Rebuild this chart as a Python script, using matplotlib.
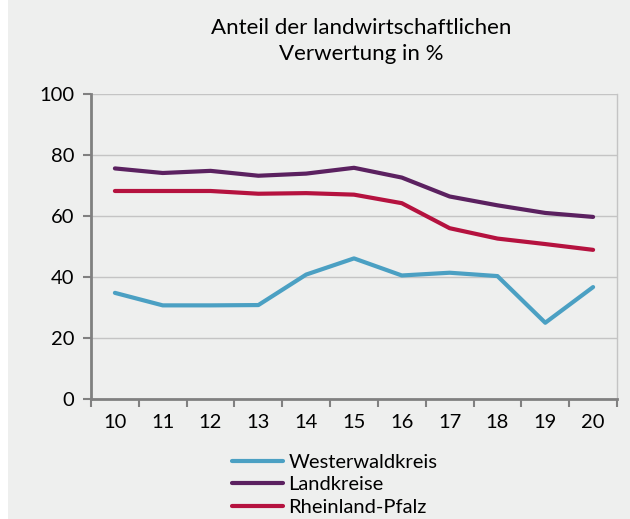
import matplotlib
matplotlib.use("Agg")
import matplotlib.pyplot as plt
from matplotlib.patches import Rectangle
import numpy as np

years = ["10", "11", "12", "13", "14", "15", "16", "17", "18", "19", "20"]
westerwald = [34.8, 30.7, 30.7, 30.8, 40.8, 46.1, 40.5, 41.4, 40.3, 25.0, 36.7]
landkreise = [75.6, 74.1, 74.8, 73.2, 73.9, 75.8, 72.6, 66.4, 63.5, 61.0, 59.7]
rlp = [68.2, 68.2, 68.2, 67.3, 67.5, 67.0, 64.2, 56.0, 52.6, 50.8, 48.9]
series_names = ["Westerwaldkreis", "Landkreise", "Rheinland-Pfalz"]
title = "Anteil der landwirtschaftlichen\nVerwertung in %"

plt.rcParams['font.family'] = ['Lato', 'DejaVu Sans']
bg = "#EEEFEE"
W, H = 630, 519
fig = plt.figure(figsize=(W/100, H/100), dpi=100, facecolor=bg)
fig.patches.append(Rectangle((0, 0), 8/W, 1, transform=fig.transFigure,
                             facecolor="white", edgecolor="none", zorder=-1))

ax = fig.add_axes([91/W, 1-399/H, (617-91)/W, (399-94)/H])
ax.set_facecolor(bg)
x = np.arange(len(years))
colors = ["#4BA0C3", "#5B2160", "#B5123F"]
for vals, c, n in zip([westerwald, landkreise, rlp], colors, series_names):
    ax.plot(x, vals, color=c, lw=3, label=n, solid_capstyle='round', zorder=3)

ax.set_xlim(-0.5, len(years)-0.5)
ax.set_ylim(0, 100)
ax.set_yticks([0, 20, 40, 60, 80, 100])
ax.set_xticks(x)
ax.set_xticklabels(years)
ax.set_xticks(np.arange(-0.5, len(years), 1.0), minor=True)
ax.tick_params(axis='x', which='major', length=0, pad=11, labelsize=14.5)
ax.tick_params(axis='x', which='minor', length=6, width=1.5, color="#808080", direction='out')
ax.tick_params(axis='y', length=6, width=1.5, color="#808080", labelsize=14.5, pad=6)
ax.grid(axis='y', color="#C4C4C4", lw=1)
ax.spines['top'].set_visible(False)
ax.spines['right'].set_color("#C4C4C4")
ax.spines['right'].set_linewidth(1)
for s in ['left', 'bottom']:
    ax.spines[s].set_color("#808080")
    ax.spines[s].set_linewidth(2)
ax.set_axisbelow(True)

fig.text(361/W, 1-41/H, title, ha='center', va='center', fontsize=16, linespacing=1.4)

leg = fig.legend(loc='upper left', bbox_to_anchor=(224/W, 1-446/H), frameon=False,
                 fontsize=14.5, handlelength=2.55, handletextpad=0.25, labelspacing=0.26,
                 borderaxespad=0)

fig.savefig("out.png", dpi=100, facecolor=bg)
